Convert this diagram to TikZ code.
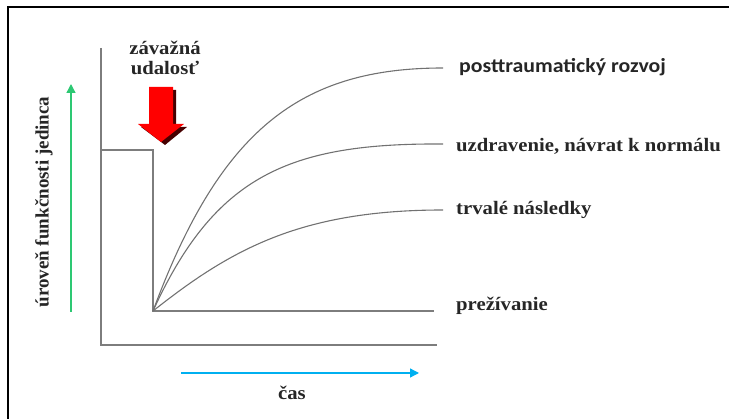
\documentclass[tikz,border=0pt]{standalone}
\usepackage{fontspec}
\setmainfont{Liberation Serif}
\newfontfamily\calibrifont{Carlito}
\usetikzlibrary{arrows.meta}
\definecolor{axisgray}{RGB}{125,125,125}
\definecolor{levelgreen}{RGB}{45,200,115}
\definecolor{timeblue}{RGB}{0,176,240}
\definecolor{shadowred}{RGB}{70,0,0}
\tikzset{
  axisline/.style={draw=axisgray, line width=1.4pt},
  curveline/.style={draw=axisgray!90!black, line width=1.1pt},
  txt/.style={font=\bfseries\fontsize{19}{20}\selectfont, text=black!85, inner sep=0pt},
  lbl/.style={txt, anchor=west, xscale=1.09},
}
\begin{document}
\begin{tikzpicture}[x=1pt, y=-1pt]
  \useasboundingbox (0,0) rectangle (729,419);
  % outer frame (open on right and bottom)
  \draw[line width=2pt, black] (8,419) -- (8,7) -- (729,7);

  % axes
  \coordinate (ytop) at (101,48);
  \coordinate (origin) at (101,345);
  \coordinate (xend) at (437,345);
  \draw[axisline] (ytop) -- (origin) -- (xend);

  % level before and after the event
  \coordinate (lvl) at (101,150);
  \coordinate (drop) at (153,150);
  \coordinate (low) at (153,311);
  \coordinate (lowend) at (434,311);
  \draw[axisline, line width=1.3pt] (lvl) -- (drop) -- (low) -- (lowend);

  % recovery curves
  \coordinate (e1) at (443,68);
  \coordinate (e2) at (443,144);
  \coordinate (e3) at (443,210);
  \draw[curveline] (low) .. controls (220,130) and (300,68) .. (e1);
  \draw[curveline] (low) .. controls (215,175) and (290,143) .. (e2);
  \draw[curveline] (low) .. controls (230,250) and (300,210) .. (e3);

  % labels of the outcomes
  \node[lbl, font=\calibrifont\bfseries\fontsize{20}{21}\selectfont] (l1) at (459,67) {posttraumatický rozvoj};
  \node[lbl] (l2) at (456,146) {uzdravenie, návrat k normálu};
  \node[lbl] (l3) at (456,210) {trvalé následky};
  \node[lbl] (l4) at (456,306) {prežívanie};

  % event marker
  \node[txt, align=center, xscale=1.09] (ev) at (165,58) {závažná\\udalosť};
  \fill[shadowred] (152,90) -- (176,90) -- (176,127) -- (187,127) -- (165,145) -- (141,127) -- (152,127) -- cycle;
  \fill[red] (149,87) -- (173,87) -- (173,124) -- (184,124) -- (161,142) -- (138,124) -- (149,124) -- cycle;

  % level axis arrow
  \coordinate (gA) at (71,312);
  \coordinate (gB) at (71,84);
  \draw[levelgreen, line width=1.3pt, -{Triangle[length=9pt,width=9pt]}] (gA) -- (gB);
  \node[txt, rotate=90] (ylab) at (44,202) {úroveň funkčnosti jedinca};

  % time axis arrow
  \coordinate (tA) at (181,373);
  \coordinate (tB) at (419,373);
  \draw[timeblue, line width=1.3pt, -{Triangle[length=9pt,width=9pt]}] (tA) -- (tB);
  \node[txt, xscale=1.09] (xlab) at (292,393) {čas};
\end{tikzpicture}
\end{document}
